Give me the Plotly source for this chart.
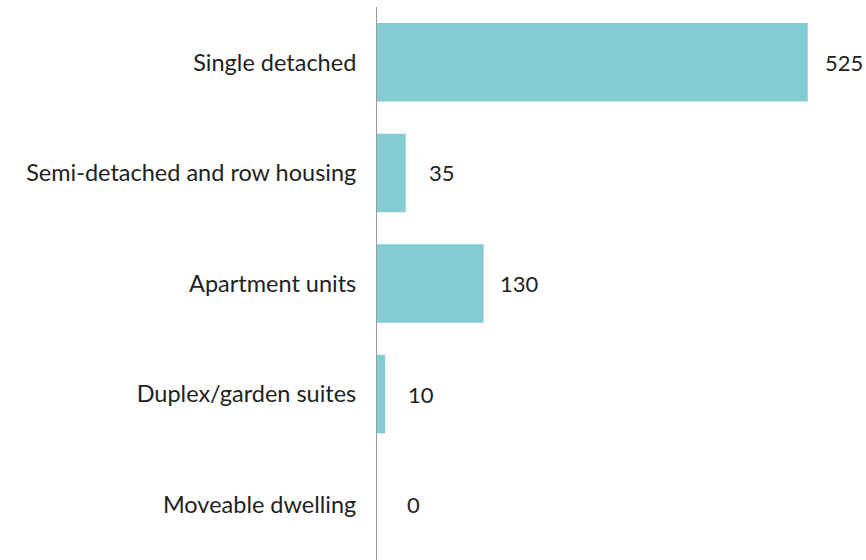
import plotly.graph_objects as go

categories = ["Single detached", "Semi-detached and row housing", "Apartment units",
              "Duplex/garden suites", "Moveable dwelling"]
values = [525, 35, 130, 10, 0]
value_labels = ["525", "35", "130", "10", "0"]

bar_color = "#84CCD3"
text_color = "#231F20"
font_family = "Lato, 'Open Sans', sans-serif"

fig = go.Figure(go.Bar(
    y=categories,
    x=values,
    orientation="h",
    marker=dict(color=bar_color, line=dict(width=0)),
    hoverinfo="skip",
))

for c, v, t in zip(categories, values, value_labels):
    fig.add_annotation(x=v, y=c, text=t, showarrow=False, xanchor="center",
                       xshift=36, font=dict(size=22, color=text_color, family=font_family))

fig.update_layout(
    width=866, height=560,
    margin=dict(l=377, r=0, t=7, b=0, autoexpand=False),
    paper_bgcolor="white", plot_bgcolor="white",
    bargap=0.29,
    showlegend=False,
    font=dict(family=font_family, size=22, color=text_color),
)
fig.update_xaxes(range=[0, 596], visible=False, showgrid=False, zeroline=False)
fig.update_yaxes(autorange="reversed", showgrid=False, zeroline=False,
                 showline=True, linecolor="#9A9A9A", linewidth=1,
                 ticks="", ticklabelstandoff=15, automargin=False,
                 tickfont=dict(size=23.5, color=text_color, family=font_family))

fig.write_html("out.html", config={"displayModeBar": False},
               post_script="document.body.style.margin='0';document.body.style.overflow='hidden';")
